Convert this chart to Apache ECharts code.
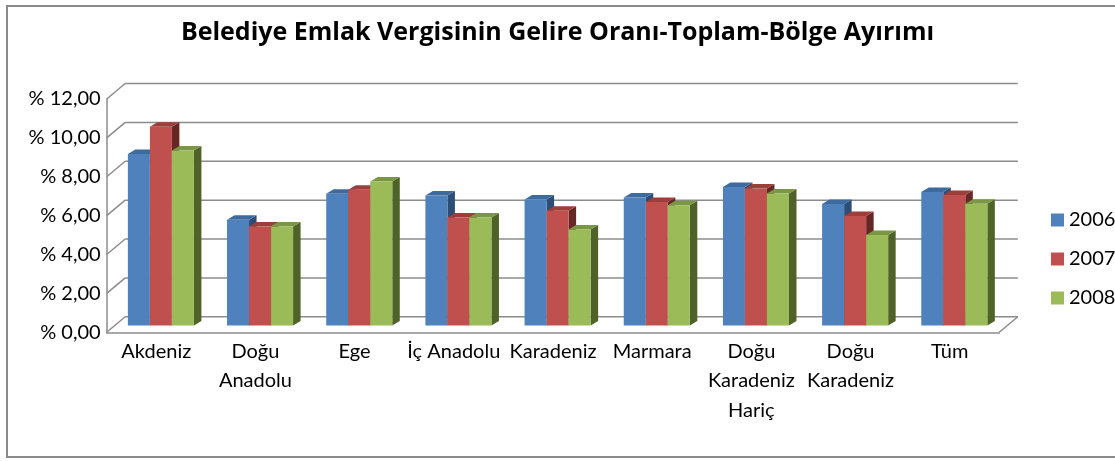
<!DOCTYPE html>
<html>
<head>
<meta charset="utf-8">
<script src="https://cdn.jsdelivr.net/npm/echarts@6/dist/echarts.min.js"></script>
<style>html,body{margin:0;padding:0;background:#fff;}#chart{width:1115px;height:461px;}</style>
</head>
<body>
<div id="chart"></div>
<script>
const titleText = 'Belediye Emlak Vergisinin Gelire Oranı-Toplam-Bölge Ayırımı';
const categories = ['Akdeniz', 'Doğu\nAnadolu', 'Ege', 'İç Anadolu', 'Karadeniz', 'Marmara', 'Doğu\nKaradeniz\nHariç', 'Doğu\nKaradeniz', 'Tüm'];
const seriesNames = ['2006', '2007', '2008'];
const values2006 = [8.82, 5.44, 6.78, 6.69, 6.48, 6.59, 7.12, 6.25, 6.87];
const values2007 = [10.22, 5.09, 6.98, 5.56, 5.90, 6.35, 7.05, 5.63, 6.71];
const values2008 = [9.00, 5.09, 7.41, 5.56, 4.94, 6.18, 6.79, 4.65, 6.26];
const yTicks = [0, 2, 4, 6, 8, 10, 12];

const FONT = 'Lato';
const faceColors = [
  { front: '#4F81BD', top: '#3E6A9E', side: '#2C4D75' },
  { front: '#C0504D', top: '#9E3E3B', side: '#652624' },
  { front: '#9BBB59', top: '#7B9645', side: '#4F6228' }
];
const BACK_X = 18.5, BACK_Y = -15.5;   // depth offset of back wall
const BAR_OFF_X = 4.6, BAR_OFF_Y = -6.8; // bar front plane offset
const DEPTH_X = 7.5, DEPTH_Y = -4.5;   // bar depth
const GRID_COLOR = '#8c8c8c';

function barRenderer(si) {
  const c = faceColors[si];
  return function (params, api) {
    const idx = api.value(0), val = api.value(1);
    const top = api.coord([idx, val]);
    const base = api.coord([idx, 0]);
    const band = api.size([1, 0])[0];
    const bw = band * 0.222;
    const cx = base[0] + BAR_OFF_X;
    const x0 = cx - 1.5 * bw + si * bw, x1 = x0 + bw;
    const yb = base[1] + BAR_OFF_Y, yt = top[1] + BAR_OFF_Y;
    return {
      type: 'group',
      children: [
        { type: 'polygon', shape: { points: [[x1, yb], [x1 + DEPTH_X, yb + DEPTH_Y], [x1 + DEPTH_X, yt + DEPTH_Y], [x1, yt]] }, style: { fill: c.side } },
        { type: 'polygon', shape: { points: [[x0, yt], [x1, yt], [x1 + DEPTH_X, yt + DEPTH_Y], [x0 + DEPTH_X, yt + DEPTH_Y]] }, style: { fill: c.top } },
        { type: 'rect', shape: { x: x0, y: yt, width: bw, height: yb - yt }, style: { fill: c.front } }
      ]
    };
  };
}

function gridRenderer(params, api) {
  const cs = params.coordSys;
  const v = api.value(1);
  const y = api.coord([0, v])[1];
  const st = { stroke: GRID_COLOR, lineWidth: 1.5, fill: null };
  const children = [
    { type: 'line', shape: { x1: cs.x + BACK_X, y1: y + BACK_Y, x2: cs.x + cs.width + BACK_X, y2: y + BACK_Y }, style: st },
    { type: 'line', shape: { x1: cs.x, y1: y, x2: cs.x + BACK_X, y2: y + BACK_Y }, style: st }
  ];
  if (v === 0) {
    children.push({ type: 'line', shape: { x1: cs.x + cs.width, y1: y, x2: cs.x + cs.width + BACK_X, y2: y + BACK_Y }, style: st });
  }
  return { type: 'group', children: children };
}

const allValues = [values2006, values2007, values2008];
const series = [{
  type: 'custom',
  name: 'grid',
  renderItem: gridRenderer,
  data: yTicks.map(v => [0, v]),
  z: 1,
  silent: true
}];
seriesNames.forEach((n, si) => {
  series.push({
    type: 'custom',
    name: n,
    renderItem: barRenderer(si),
    itemStyle: { color: faceColors[si].front },
    data: allValues[si].map((v, i) => [i, v]),
    z: 2 + si
  });
});

const chart = echarts.init(document.getElementById('chart'), null, { renderer: 'canvas' });
chart.setOption({
  animation: false,
  backgroundColor: '#fff',
  title: {
    text: titleText,
    left: 'center',
    top: 15,
    textStyle: { fontFamily: 'Open Sans', fontWeight: 'bold', fontSize: 25, color: '#000' }
  },
  graphic: [{
    type: 'rect',
    shape: { x: 7, y: 6, width: 1120, height: 451 },
    style: { fill: null, stroke: '#8a8a8a', lineWidth: 2 },
    z: 0
  }],
  legend: {
    orient: 'vertical',
    left: 1046,
    top: 205,
    itemWidth: 13,
    itemHeight: 13,
    itemGap: 19,
    icon: 'rect',
    data: seriesNames,
    textStyle: { fontFamily: FONT, fontSize: 20, color: '#000' }
  },
  grid: { left: 106.7, right: 115.7, top: 99, bottom: 128.7, containLabel: false },
  xAxis: {
    type: 'category',
    data: categories,
    axisLine: { show: true, lineStyle: { color: GRID_COLOR, width: 1.5 } },
    axisTick: { show: false },
    axisLabel: { interval: 0, fontFamily: FONT, fontSize: 20, color: '#000', lineHeight: 29.5, margin: 4 },
    splitLine: { show: false }
  },
  yAxis: {
    type: 'value',
    min: 0, max: 12, interval: 2,
    axisLine: { show: true, lineStyle: { color: GRID_COLOR, width: 1.5 } },
    axisTick: { show: false },
    splitLine: { show: false },
    axisLabel: {
      fontFamily: FONT, fontSize: 20, color: '#000', margin: 6,
      formatter: v => '% ' + v.toFixed(2).replace('.', ',')
    }
  },
  series: series
});
</script>
</body>
</html>
